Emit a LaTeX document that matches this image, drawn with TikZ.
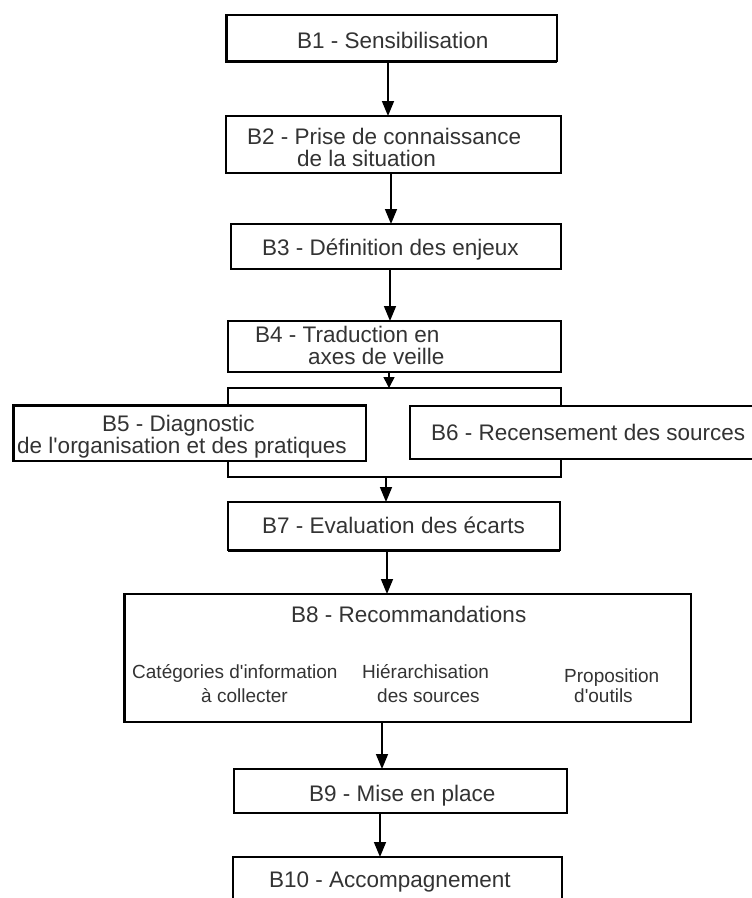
\documentclass[tikz,border=0pt]{standalone}
\usepackage{fontspec}
\setmainfont{Liberation Sans}
\usetikzlibrary{arrows.meta,fit}

\tikzset{
  box/.style={draw=black, line width=1.7pt, fill=white, inner sep=0pt, outer sep=0pt},
  heavy/.style={draw=black, line width=3pt},
  lbl/.style={anchor=base west, inner sep=0pt, text=black!80,
              font=\fontsize{22.5}{24}\selectfont},
  sublbl/.style={anchor=base west, inner sep=0pt, text=black!80,
                 font=\fontsize{19}{21}\selectfont},
  link/.style={draw=black, line width=1.6pt},
  arr/.style={link, -{Triangle[width=12pt,length=15pt]}},
  shortarr/.style={link, -{Triangle[width=11pt,length=11pt]}}
}

\begin{document}
\begin{tikzpicture}[x=1pt,y=-1pt]
  \clip (0,0) rectangle (752,898);
  \fill[white] (0,0) rectangle (752,898);

  % process boxes
  \node[box, fit={(226,15) (557,61)}]   (b1) {};
  \node[box, fit={(226,116) (561,173)}] (b2) {};
  \node[box, fit={(231,224) (561,269)}] (b3) {};
  \node[box, fit={(228,321) (561,372)}] (b4) {};
  \node[box, fit={(13,405) (366,461)}]  (b5) {};
  \node[box, fit={(410,406) (770,459)}] (b6) {};
  \node[box, fit={(228,502) (560,550)}] (b7) {};
  \node[box, fit={(124,594) (691,722)}] (b8) {};
  \node[box, fit={(234,769) (567,813)}] (b9) {};
  \node[box, fit={(233,857) (562,920)}] (b10) {};

  % heavier edges
  \draw[heavy] (b1.north west) -- (b1.south west) -- (b1.south east);
  \draw[heavy] (b5.south west) -- (b5.north west) -- (b5.north east);
  \draw[heavy] (b7.south west) -- (b7.south east);
  \draw[heavy] (b8.north west) -- (b8.south west);

  % labels
  \node[lbl] (t1)  at (297,48)  {B1 - Sensibilisation};
  \node[lbl] (t2a) at (247,144) {B2 - Prise de connaissance};
  \node[lbl] (t2b) at (297,166) {de la situation};
  \node[lbl] (t3)  at (262,255) {B3 - Définition des enjeux};
  \node[lbl] (t4a) at (255,342) {B4 - Traduction en};
  \node[lbl] (t4b) at (308,364) {axes de veille};
  \node[lbl] (t5a) at (102,431) {B5 - Diagnostic};
  \node[lbl] (t5b) at (17,453)  {de l\textquotesingle organisation et des pratiques};
  \node[lbl] (t6)  at (431,440) {B6 - Recensement des sources};
  \node[lbl] (t7)  at (262,533) {B7 - Evaluation des écarts};
  \node[lbl] (t8)  at (291,622) {B8 - Recommandations};
  \node[sublbl] (t8a) at (132,678) {Catégories d\textquotesingle information};
  \node[sublbl] (t8b) at (201,702) {à collecter};
  \node[sublbl] (t8c) at (362,678) {Hiérarchisation};
  \node[sublbl] (t8d) at (377,702) {des sources};
  \node[sublbl] (t8e) at (564,682) {Proposition};
  \node[sublbl] (t8f) at (574,702) {d\textquotesingle outils};
  \node[lbl] (t9)  at (309,801) {B9 - Mise en place};
  \node[lbl] (t10) at (269,887) {B10 - Accompagnement};

  % split and join brackets around B5 / B6
  \coordinate (split) at (389,388);
  \coordinate (join)  at (386,477);
  \draw[link] (b5.north -| b4.west) |- (split) -| (b6.north -| b4.east);
  \draw[link] (b5.south -| b4.west) |- (join)  -| (b6.south -| b4.east);

  % connectors
  \draw[arr] ([xshift=-3.5pt]b1.south) -- ([xshift=-5.5pt]b2.north);
  \draw[arr] ([xshift=-2.5pt]b2.south) -- ([xshift=-5pt]b3.north);
  \draw[arr] ([xshift=-6pt]b3.south)   -- ([xshift=-4.5pt]b4.north);
  \draw[shortarr] ([xshift=-5.5pt]b4.south) -- (split);
  \draw[arr] (join) -- ([xshift=-8pt]b7.north);
  \draw[arr] ([xshift=-7pt]b7.south)    -- ([xshift=-20.5pt]b8.north);
  \draw[arr] ([xshift=-25.5pt]b8.south) -- ([xshift=-18.5pt]b9.north);
  \draw[arr] ([xshift=-20.5pt]b9.south) -- ([xshift=-17.5pt]b10.north);
\end{tikzpicture}
\end{document}
